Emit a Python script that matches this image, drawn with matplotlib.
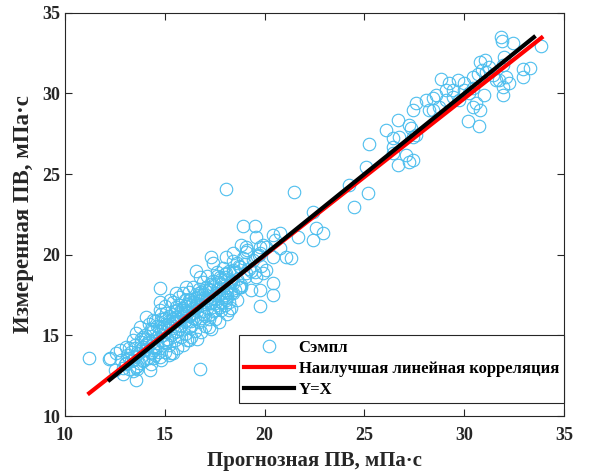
import numpy as np
import matplotlib
matplotlib.use('Agg')
import matplotlib.pyplot as plt

plt.rcParams['font.family'] = ['Liberation Serif', 'DejaVu Serif']
plt.rcParams['font.weight'] = 'bold'

# прогноз vs измерение (оценено по картинке)
x_pred = [
    31.83, 31.88, 32.42, 33.87, 32.0, 31.92, 30.78, 31.02, 31.25, 30.88,
    30.67, 30.42, 31.08, 31.42, 31.75, 32.08, 32.25, 31.92, 32.95, 33.28,
    32.95, 31.58, 31.92, 31.0, 30.42, 30.0, 29.67, 29.25, 28.83, 29.08,
    28.58, 28.42, 28.08, 28.25, 27.58, 27.42, 28.42, 28.75, 29.08, 29.42,
    29.75, 30.25, 30.58, 30.42, 30.78, 30.17, 30.72, 30.0, 29.42,
    26.67, 26.08, 27.25, 27.33, 26.42, 26.75, 27.42, 27.58, 25.25, 26.42,
    27.08, 27.25, 27.42, 26.67, 26.42, 25.08, 24.25, 25.17, 24.5, 22.42,
    21.5, 18.08, 22.58, 22.92, 22.42, 21.67, 20.75, 20.42, 20.5, 19.58,
    18.92, 19.5, 18.83, 19.08, 19.75, 20.08, 20.75, 21.33, 21.08, 20.42,
    19.75, 19.08, 18.42, 18.08, 17.33, 17.42, 20.42, 20.42, 19.75, 19.75,
    20.08, 19.92, 19.58, 19.08, 18.75, 18.42, 18.08, 17.75, 18.42, 18.75,
    18.08, 17.58, 17.08, 16.75, 16.58, 16.08, 15.58, 14.75, 14.75, 15.25,
    15.58, 16.25, 16.75, 17.25, 17.75, 18.08, 18.42, 16.42, 16.08, 15.58,
    15.08, 14.75, 14.42, 14.08, 13.75, 13.58, 13.42, 13.08, 12.75, 12.58,
    12.25, 11.22, 12.22, 12.5, 13.08, 13.58, 14.25, 13.55, 16.75, 15.42,
    14.75, 14.42, 13.92,
    13.0, 13.1, 13.2, 13.3, 13.4, 13.5, 13.6, 13.7, 13.8, 13.9,
    14.0, 14.0, 14.1, 14.2, 14.3, 14.3, 14.4, 14.5, 14.5, 14.6,
    14.7, 14.7, 14.8, 14.8, 14.9, 15.0, 15.0, 15.0, 15.1, 15.2,
    15.2, 15.3, 15.3, 15.4, 15.4, 15.5, 15.5, 15.6, 15.6, 15.7,
    15.7, 15.8, 15.8, 15.9, 15.9, 16.0, 16.0, 16.0, 16.1, 16.1,
    16.2, 16.2, 16.3, 16.3, 16.4, 16.4, 16.5, 16.5, 16.6, 16.6,
    16.7, 16.7, 16.8, 16.8, 16.9, 16.9, 17.0, 17.0, 17.1, 17.1,
    17.2, 17.2, 17.3, 17.3, 17.4, 17.4, 17.5, 17.5, 17.6, 17.6,
    17.7, 17.7, 17.8, 17.8, 17.9, 17.9, 18.0, 18.0, 18.1, 18.1,
    18.2, 18.2, 18.3, 18.3, 18.4, 18.5, 18.5, 18.6, 18.7, 18.8,
    18.9, 19.0, 19.1, 19.2, 19.3, 19.4, 19.5, 19.7, 19.8, 19.9,
    13.4, 13.7, 14.2, 14.6, 15.1, 15.6, 16.2, 16.6, 17.1, 17.6,
    18.0, 14.4, 14.9, 15.4, 15.9, 16.4, 16.9, 17.4, 12.8, 12.9,
    13.2, 13.5, 13.9, 14.1, 14.6, 15.2, 15.8, 16.3, 16.8, 17.3,
    17.8, 18.3, 14.9, 15.5, 16.0, 16.5, 17.0, 17.5, 18.1, 18.6,
    13.3, 13.6, 13.9, 14.2, 14.5, 14.8, 15.1, 15.4, 15.7, 16.0,
    16.3, 16.6, 16.9, 17.2, 17.5, 17.8, 18.1, 18.4, 18.7, 19.0,
    13.5, 13.8, 14.1, 14.4, 14.7, 15.0, 15.3, 15.6, 15.9, 16.2,
    16.5, 16.8, 17.1, 17.4, 17.7, 18.0, 18.3, 18.6, 14.3, 14.6,
    14.9, 15.2, 15.5, 15.8, 16.1, 16.4, 16.7, 17.0, 17.3, 17.6,
    12.9, 13.2, 13.6, 14.0, 14.4, 14.8, 15.2, 15.7, 16.2, 16.7,
    17.2, 17.7, 18.2, 18.8, 19.3, 19.6, 14.2, 15.0, 15.9, 16.6,
]
y_meas = [
    33.49, 33.28, 33.16, 32.97, 32.29, 31.77, 31.98, 32.08, 31.67, 31.46,
    31.22, 31.05, 31.36, 31.16, 30.84, 31.05, 30.64, 30.43, 31.51, 31.57,
    31.01, 30.84, 29.92, 29.92, 30.33, 30.64, 30.81, 30.64, 30.89, 30.23,
    29.92, 29.71, 29.6, 28.98, 29.4, 28.98, 28.98, 29.19, 29.6, 29.81,
    29.6, 30.02, 29.4, 29.19, 28.98, 28.32, 27.99, 30.23, 30.23,
    28.36, 27.75, 28.06, 27.85, 27.23, 27.33, 27.33, 27.43, 26.87, 26.71,
    26.19, 25.78, 25.88, 25.57, 26.29, 25.47, 24.33, 23.82, 22.99, 22.68,
    23.92, 24.08, 21.64, 21.33, 20.92, 21.13, 21.33, 21.23, 20.92, 21.13,
    21.79, 21.79, 20.61, 20.51, 20.51, 20.51, 20.4, 19.78, 19.89, 19.89,
    20.09, 20.19, 20.09, 19.89, 19.89, 19.47, 18.23, 17.5, 17.82, 16.82,
    19.06, 18.85, 18.65, 18.85, 19.27, 19.06, 18.85, 18.65, 18.23, 18.02,
    17.82, 17.61, 18.02, 18.65, 19.02, 18.02, 17.61, 17.92, 17.09, 17.2,
    16.78, 17.2, 17.2, 16.99, 16.78, 17.2, 17.61, 16.37, 15.95, 16.16,
    16.37, 16.57, 15.95, 16.16, 15.54, 15.13, 14.71, 14.3, 14.1, 13.89,
    13.58, 13.62, 13.52, 12.86, 13.27, 13.06, 12.86, 12.24, 12.92, 13.89,
    13.68, 14.1, 14.3,
    13.2, 13.8, 12.9, 14.0, 13.5, 14.4, 13.1, 13.9, 14.6, 13.4,
    14.1, 15.0, 13.6, 14.7, 13.2, 15.4, 14.3, 13.8, 15.9, 14.9,
    14.0, 15.5, 13.5, 16.3, 14.6, 15.2, 14.0, 16.8, 15.7, 14.4,
    16.2, 15.0, 13.9, 15.6, 17.1, 14.7, 16.5, 15.3, 14.2, 16.0,
    17.4, 15.6, 14.9, 16.7, 14.4, 15.9, 17.2, 15.1, 16.4, 14.7,
    17.7, 15.5, 16.9, 14.9, 16.1, 18.0, 15.3, 17.3, 16.5, 14.8,
    15.8, 17.9, 16.9, 15.2, 16.3, 18.3, 17.4, 15.6, 16.7, 18.7,
    16.0, 17.8, 17.0, 15.4, 16.5, 18.4, 17.5, 16.0, 18.9, 16.9,
    17.6, 15.8, 18.2, 16.6, 17.4, 19.2, 16.9, 18.6, 17.7, 16.3,
    19.0, 17.1, 18.3, 16.7, 19.6, 17.8, 18.9, 17.2, 19.3, 18.1,
    19.8, 18.6, 20.3, 19.1, 17.8, 19.7, 18.9, 20.0, 19.3, 20.6,
    12.8, 13.3, 13.6, 14.3, 14.8, 15.9, 16.2, 17.0, 17.2, 17.9,
    17.5, 15.3, 15.5, 16.1, 16.3, 16.7, 17.5, 17.3, 13.5, 12.6,
    13.6, 13.7, 14.9, 14.4, 15.6, 15.9, 16.6, 15.6, 16.1, 16.3,
    17.1, 17.6, 16.0, 15.2, 16.6, 16.0, 16.2, 16.6, 18.0, 18.5,
    13.4, 13.9, 13.5, 14.6, 14.2, 15.3, 14.8, 16.0, 15.4, 16.8,
    15.9, 17.4, 16.5, 17.9, 17.0, 18.5, 17.4, 18.9, 18.0, 19.4,
    14.2, 14.8, 14.5, 15.4, 15.1, 16.1, 15.7, 16.6, 16.2, 17.2,
    16.7, 17.7, 17.3, 18.1, 17.9, 18.8, 18.4, 19.5, 13.9, 14.5,
    15.0, 15.6, 15.9, 16.4, 16.8, 17.1, 17.5, 17.8, 18.2, 18.7,
    13.0, 14.2, 12.9, 14.8, 13.6, 16.0, 13.8, 16.9, 14.7, 17.6,
    15.5, 18.3, 16.6, 18.0, 19.0, 19.9, 15.7, 14.6, 17.6, 16.9,
]

# наилучшая линейная корреляция (коэффициенты с картинки)
fit_slope = 0.973
fit_intercept = 0.50

x_pred = np.array(x_pred)
y_meas = np.array(y_meas)

fig = plt.figure(figsize=(5.95, 4.76), dpi=100)
ax = fig.add_axes([0.109, 0.126, 0.839, 0.847])

ax.plot(x_pred, y_meas, 'o', mfc='none', mec='#4DBEEE', ms=9, mew=0.8,
        label='Сэмпл')
xf = np.array([x_pred.min(), x_pred.max()])
ax.plot(xf, fit_slope * xf + fit_intercept, color='red', lw=3,
        label='Наилучшая линейная корреляция')
yx = np.array([y_meas.min(), y_meas.max()])
ax.plot(yx, yx, color='black', lw=3, label='Y=X')

ax.set_xlim(10, 35)
ax.set_ylim(10, 35)
ax.set_xticks([10, 15, 20, 25, 30, 35])
ax.set_yticks([10, 15, 20, 25, 30, 35])
ax.tick_params(direction='in', top=True, right=True, length=5,
               labelsize=13, color='#262626', labelcolor='#262626')
ax.tick_params(axis='x', pad=8)
for s in ax.spines.values():
    s.set_color('#262626')
    s.set_linewidth(0.8)

ax.set_xlabel('Прогнозная ПВ, мПа·с', fontsize=15, fontweight='bold',
              labelpad=5, color='#262626')
ax.set_ylabel('Измеренная ПВ, мПа·с', fontsize=16.5, fontweight='bold',
              labelpad=6, color='#262626')

leg = ax.legend(loc='lower right', bbox_to_anchor=(1.0, 0.032),
                borderaxespad=0, fancybox=False, framealpha=1,
                edgecolor='#262626', fontsize=12, handlelength=3.0,
                borderpad=0.3, labelspacing=0.3, handletextpad=0.3)
leg.get_frame().set_linewidth(0.8)

fig.savefig('out.png', dpi=100)
